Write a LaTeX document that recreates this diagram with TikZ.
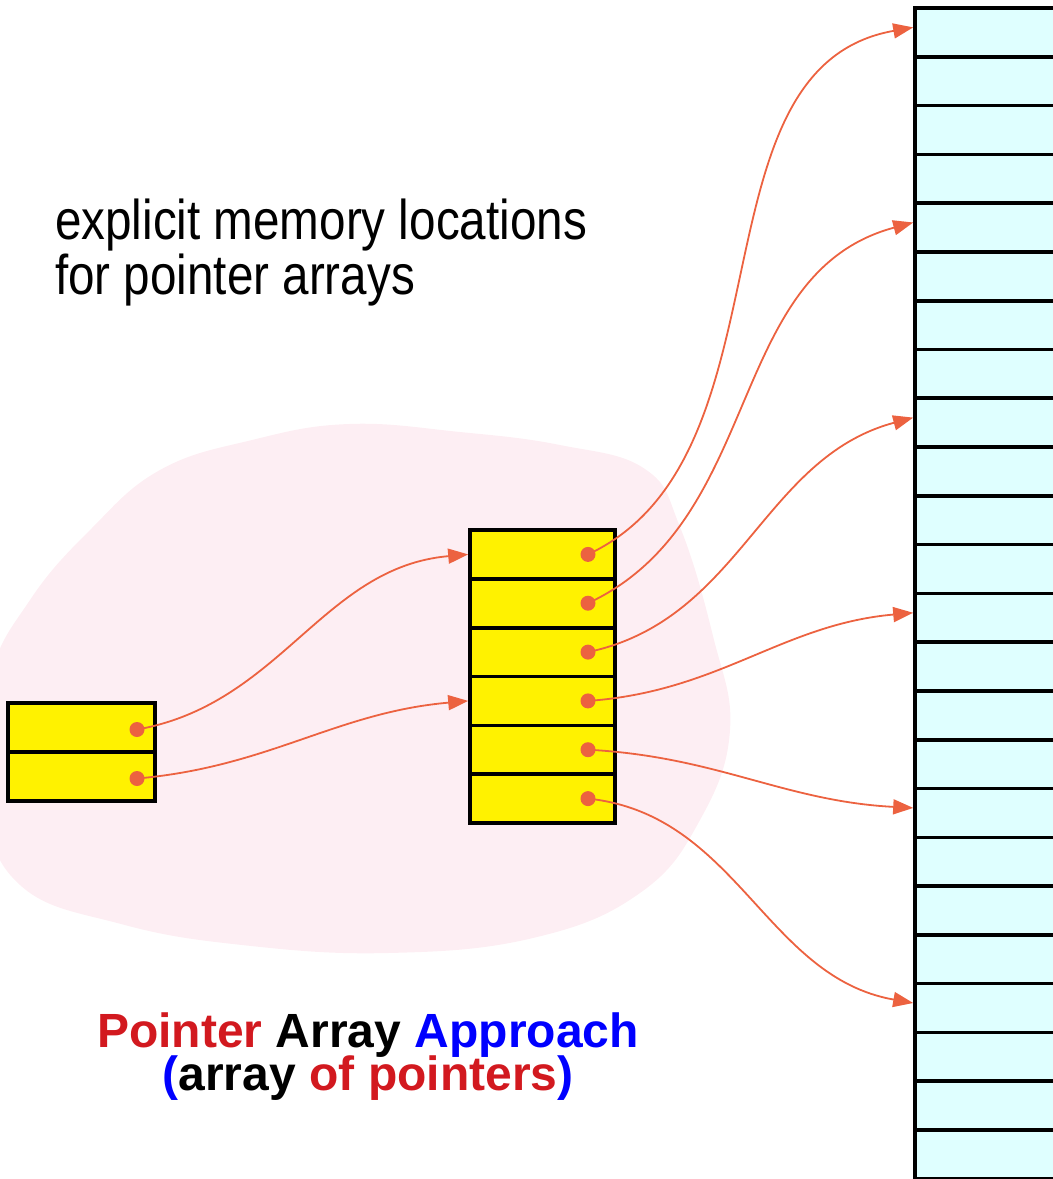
\documentclass[tikz,border=0pt]{standalone}
\usepackage{fontspec}
\setmainfont{Liberation Sans}
\newfontfamily\narrowsans[FakeStretch=0.85]{Liberation Sans}
\usetikzlibrary{arrows.meta}
\definecolor{ptrred}{HTML}{EC6240}
\definecolor{blobpink}{HTML}{FDEEF3}
\definecolor{memcyan}{HTML}{DFFFFF}
\definecolor{txtred}{HTML}{D2191F}
\definecolor{txtblue}{HTML}{0000FF}
\tikzset{
  cell/.style={draw=black,line width=3.6pt,fill=yellow,minimum width=145pt,
    minimum height=48.8pt,inner sep=0pt},
  memcell/.style={draw=black,line width=3.6pt,fill=memcyan,minimum width=200pt,
    minimum height=48.78pt,inner sep=0pt},
  dot/.style={circle,fill=ptrred,minimum size=15pt,inner sep=0pt},
  ptr/.style={draw=ptrred,line width=1.8pt,-{Triangle[length=20pt,width=15pt]}},
}
\begin{document}
\begin{tikzpicture}[x=1pt,y=-1pt]
      \useasboundingbox (0,0) rectangle (1053,1179);
      \clip (0,0) rectangle (1053,1179);
      % memory area of the pointer arrays
      \fill[blobpink] plot[smooth cycle,tension=0.7] coordinates {
        (349,424) (252,440) (160,470) (90,530) (30,600) (-10,680) (-15,800)
        (20,885) (121,924) (242,945) (388,953) (533,938) (640,893) (700,820)
        (730,730) (713,636) (680,527) (645,469) (560,445) (460,432)};
      \node[anchor=base west,inner sep=0pt,font=\narrowsans\fontsize{56}{60}\selectfont]
        (txt1) at (55,239) {explicit memory locations};
      \node[anchor=base west,inner sep=0pt,font=\narrowsans\fontsize{56}{60}\selectfont]
        (txt2) at (55,294) {for pointer arrays};
      \node[anchor=base,inner sep=0pt,font=\bfseries\fontsize{48}{50}\selectfont]
        (title1) at (368,1047) {\textcolor{txtred}{Pointer} Array \textcolor{txtblue}{Approach}};
      \node[anchor=base,inner sep=0pt,font=\bfseries\fontsize{48}{50}\selectfont]
        (title2) at (368,1090) {\textcolor{txtblue}{(}array \textcolor{txtred}{of pointers}\textcolor{txtblue}{)}};
      % memory
      \draw
        (1015,32.4) node[memcell] (m0){}
        (1015,81.2) node[memcell] (m1){}
        (1015,130.0) node[memcell] (m2){}
        (1015,178.7) node[memcell] (m3){}
        (1015,227.5) node[memcell] (m4){}
        (1015,276.3) node[memcell] (m5){}
        (1015,325.1) node[memcell] (m6){}
        (1015,373.9) node[memcell] (m7){}
        (1015,422.6) node[memcell] (m8){}
        (1015,471.4) node[memcell] (m9){}
        (1015,520.2) node[memcell] (m10){}
        (1015,569.0) node[memcell] (m11){}
        (1015,617.8) node[memcell] (m12){}
        (1015,666.5) node[memcell] (m13){}
        (1015,715.3) node[memcell] (m14){}
        (1015,764.1) node[memcell] (m15){}
        (1015,812.9) node[memcell] (m16){}
        (1015,861.7) node[memcell] (m17){}
        (1015,910.4) node[memcell] (m18){}
        (1015,959.2) node[memcell] (m19){}
        (1015,1008.0) node[memcell] (m20){}
        (1015,1056.8) node[memcell] (m21){}
        (1015,1105.6) node[memcell] (m22){}
        (1015,1154.3) node[memcell] (m23){};
      % pointer array
      \draw
        (542.5,554.4) node[cell] (pa0){}
        (542.5,603.2) node[cell] (pa1){}
        (542.5,652.1) node[cell] (pa2){}
        (542.5,700.9) node[cell] (pa3){}
        (542.5,749.7) node[cell] (pa4){}
        (542.5,798.6) node[cell] (pa5){};
      % pointer to pointer array
      \draw
        (81.5,727.5) node[cell,minimum width=147pt,minimum height=49pt] (pp0){}
        (81.5,776.5) node[cell,minimum width=147pt,minimum height=49pt] (pp1){};
      \draw
        (588,554.4) node[dot] (d0){}
        (588,603.2) node[dot] (d1){}
        (588,652.1) node[dot] (d2){}
        (588,700.9) node[dot] (d3){}
        (588,749.7) node[dot] (d4){}
        (588,798.6) node[dot] (d5){}
        (137,729.5) node[dot] (e0){}
        (137,778.5) node[dot] (e1){};
      \begin{scope}[ptr]
        \draw (e0.center) to[out=10,in=185] (pa0.west);
        \draw (e1.center) to[out=5,in=185] (pa3.west);
        \draw (d0.center) to[out=25,in=190,looseness=0.95] ([yshift=5pt]m0.west);
        \draw (d1.center) to[out=25,in=195] ([yshift=5pt]m4.west);
        \draw (d2.center) to[out=12,in=195] ([yshift=5pt]m8.west);
        \draw (d3.center) to[out=4,in=185] ([yshift=5pt]m12.west);
        \draw (d4.center) to[out=-3,in=177] ([yshift=5pt]m16.west);
        \draw (d5.center) to[out=-6,in=170] ([yshift=5pt]m20.west);
      \end{scope}
    \end{tikzpicture}
\end{document}
